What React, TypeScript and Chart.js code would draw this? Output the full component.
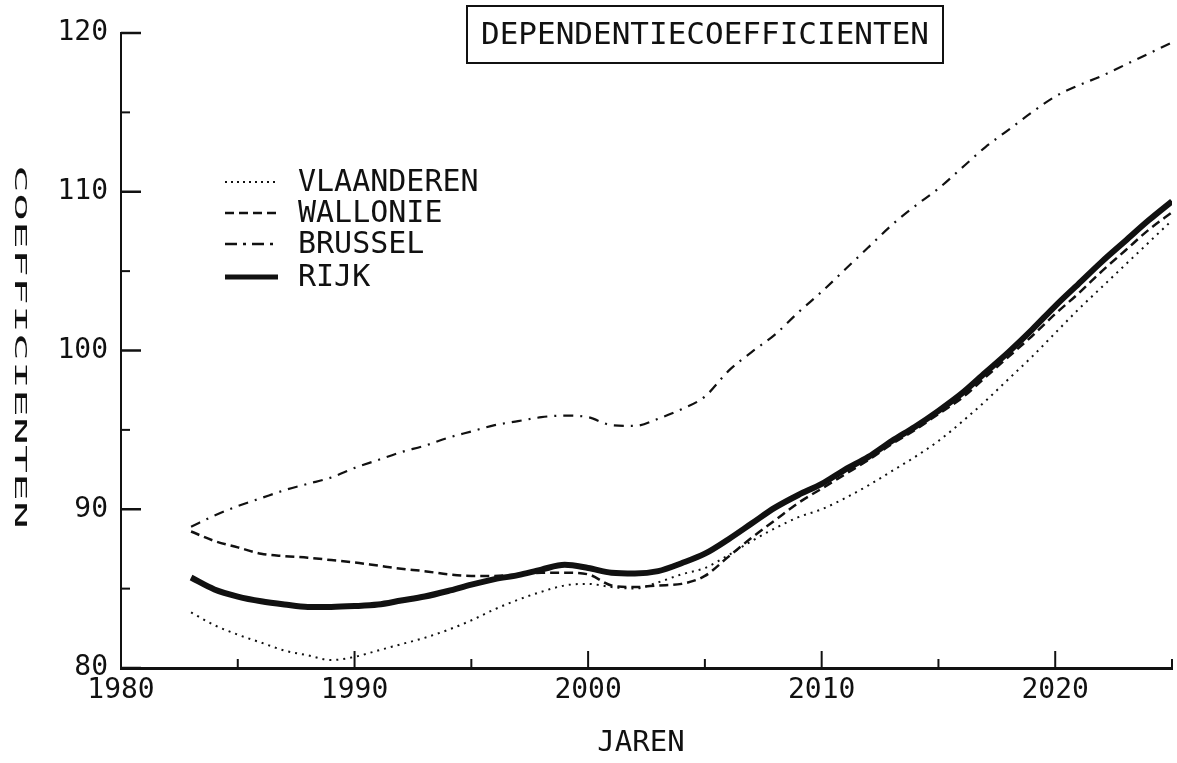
import React, { useEffect, useRef } from "react";
import { Chart, registerables } from "chart.js";

Chart.register(...registerables);

// ---------- data ----------
const years = [
  1983, 1984, 1985, 1986, 1987, 1988, 1989, 1990, 1991, 1992,
  1993, 1994, 1995, 1996, 1997, 1998, 1999, 2000, 2001, 2002,
  2003, 2004, 2005, 2006, 2007, 2008, 2009, 2010, 2011, 2012,
  2013, 2014, 2015, 2016, 2017, 2018, 2019, 2020, 2021, 2022,
  2023, 2024, 2025,
];

const vlaanderen = [
  83.5, 82.7, 82.1, 81.6, 81.1, 80.8, 80.5, 80.7, 81.1, 81.5,
  81.9, 82.4, 83.0, 83.7, 84.3, 84.8, 85.2, 85.3, 85.1, 85.0,
  85.4, 85.9, 86.3, 87.1, 88.0, 88.8, 89.5, 90.0, 90.7, 91.5,
  92.4, 93.3, 94.3, 95.5, 96.8, 98.2, 99.6, 101.1, 102.6, 104.0,
  105.4, 106.8, 108.2,
];

const wallonie = [
  88.6, 88.0, 87.6, 87.2, 87.05, 86.95, 86.8, 86.65, 86.45, 86.25,
  86.1, 85.9, 85.8, 85.8, 85.9, 86.0, 86.0, 85.9, 85.2, 85.1,
  85.2, 85.3, 85.8, 87.0, 88.2, 89.3, 90.4, 91.3, 92.2, 93.1,
  94.1, 95.0, 96.0, 97.0, 98.3, 99.6, 100.9, 102.3, 103.6, 105.0,
  106.3, 107.6, 108.7,
];

const brussel = [
  88.9, 89.6, 90.2, 90.7, 91.2, 91.6, 92.0, 92.6, 93.1, 93.6,
  94.0, 94.5, 94.9, 95.3, 95.55, 95.8, 95.9, 95.8, 95.3, 95.25,
  95.7, 96.3, 97.1, 98.7, 99.9, 101.0, 102.4, 103.7, 105.1, 106.5,
  107.9, 109.1, 110.2, 111.5, 112.8, 113.9, 115.0, 116.0, 116.7, 117.3,
  118.0, 118.7, 119.4,
];

const rijk = [
  85.7, 84.95, 84.5, 84.2, 84.0, 83.85, 83.85, 83.9, 84.0, 84.25,
  84.5, 84.85, 85.25, 85.6, 85.85, 86.2, 86.5, 86.3, 86.0, 85.95,
  86.1, 86.6, 87.2, 88.1, 89.1, 90.1, 90.9, 91.6, 92.5, 93.3,
  94.3, 95.2, 96.2, 97.3, 98.6, 99.9, 101.3, 102.8, 104.2, 105.6,
  106.9, 108.2, 109.4,
];

const seriesLabels = ["VLAANDEREN", "WALLONIE", "BRUSSEL", "RIJK"];

const xMajorTicks = [1980, 1990, 2000, 2010, 2020];
const xMinorTicks = [1985, 1995, 2005, 2015, 2025];
const yMajorTicks = [80, 90, 100, 110, 120];
const yMinorTicks = [85, 95, 105, 115];

const titleText = "DEPENDENTIECOEFFICIENTEN";
const xTitleText = "JAREN";
const yTitleText = "COEFFICIENTEN";

// ---------- styling ----------
const INK = "#111111";
const MONO = '"DejaVu Sans Mono", "Liberation Mono", monospace';

const toPoints = (vals: number[]) => years.map((yr, i) => ({ x: yr, y: vals[i] }));

const decorPlugin = {
  id: "decor",
  afterDraw(chart: any) {
    const { ctx, chartArea } = chart;
    const xs = chart.scales.x;
    const ys = chart.scales.y;
    ctx.save();
    ctx.strokeStyle = INK;
    ctx.fillStyle = INK;
    ctx.setLineDash([]);
    ctx.lineCap = "butt";

    const seg = (x1: number, y1: number, x2: number, y2: number, w: number) => {
      ctx.lineWidth = w;
      ctx.beginPath();
      ctx.moveTo(x1, y1);
      ctx.lineTo(x2, y2);
      ctx.stroke();
    };

    // inward tick marks
    yMajorTicks.forEach((v) => {
      const py = ys.getPixelForValue(v);
      seg(chartArea.left, py, chartArea.left + 20, py, 2.5);
    });
    yMinorTicks.forEach((v) => {
      const py = ys.getPixelForValue(v);
      seg(chartArea.left, py, chartArea.left + 9, py, 2);
    });
    xMajorTicks.forEach((v) => {
      const px = xs.getPixelForValue(v);
      seg(px, chartArea.bottom, px, chartArea.bottom - 17, 2);
    });
    xMinorTicks.forEach((v) => {
      const px = xs.getPixelForValue(v);
      seg(px, chartArea.bottom, px, chartArea.bottom - 9, 2);
    });

    // title box
    ctx.lineWidth = 2;
    ctx.strokeRect(467, 6, 476, 57);
    ctx.font = `31px ${MONO}`;
    ctx.textAlign = "center";
    ctx.textBaseline = "middle";
    ctx.fillText(titleText, 705, 36);

    // x axis title
    ctx.font = `29px ${MONO}`;
    ctx.fillText(xTitleText, 641, 743);

    // y axis title (reads top to bottom)
    ctx.save();
    ctx.translate(19, 347);
    ctx.rotate(Math.PI / 2);
    ctx.scale(3.1, 1);
    ctx.font = `15px ${MONO}`;
    ctx.textAlign = "center";
    ctx.textBaseline = "middle";
    ctx.fillText(yTitleText, 0, 0);
    ctx.restore();

    // legend
    const rows = [182, 213, 244, 277];
    chart.data.datasets.forEach((ds: any, i: number) => {
      const ry = rows[i];
      ctx.save();
      ctx.strokeStyle = INK;
      ctx.lineWidth = ds.legendWidth;
      ctx.setLineDash(ds.legendDash);
      ctx.beginPath();
      ctx.moveTo(225, ry);
      ctx.lineTo(278, ry);
      ctx.stroke();
      ctx.restore();
      ctx.font = `30px ${MONO}`;
      ctx.textAlign = "left";
      ctx.textBaseline = "middle";
      ctx.fillText(ds.label, 298, ry + 1);
    });

    ctx.restore();
  },
};

export default function App() {
  const canvasRef = useRef<HTMLCanvasElement | null>(null);

  useEffect(() => {
    if (!canvasRef.current) return;
    const common = {
      showLine: true,
      pointRadius: 0,
      pointHoverRadius: 0,
      fill: false,
      borderColor: INK,
      backgroundColor: INK,
      cubicInterpolationMode: "monotone",
    };
    const chart = new Chart(canvasRef.current, {
      type: "line",
      data: {
        datasets: [
          {
            ...common,
            label: seriesLabels[0],
            data: toPoints(vlaanderen),
            borderWidth: 2,
            borderDash: [2, 5],
            legendDash: [2, 4],
            legendWidth: 2,
          },
          {
            ...common,
            label: seriesLabels[1],
            data: toPoints(wallonie),
            borderWidth: 2.5,
            borderDash: [9, 5],
            legendDash: [9, 5],
            legendWidth: 2.5,
          },
          {
            ...common,
            label: seriesLabels[2],
            data: toPoints(brussel),
            borderWidth: 2.2,
            borderDash: [10, 7, 2, 7],
            legendDash: [12, 6, 3, 6],
            legendWidth: 2.5,
          },
          {
            ...common,
            label: seriesLabels[3],
            data: toPoints(rijk),
            borderWidth: 6,
            legendDash: [],
            legendWidth: 5,
          },
        ] as any,
      },
      options: {
        responsive: false,
        animation: false,
        layout: { padding: { top: 33, right: 5, left: 0, bottom: 0 } },
        plugins: {
          legend: { display: false },
          title: { display: false },
          tooltip: { enabled: false },
        },
        scales: {
          x: {
            type: "linear",
            min: 1980,
            max: 2025,
            grid: { display: false, drawTicks: false },
            border: { display: true, color: INK, width: 3 },
            afterBuildTicks: (scale: any) => {
              scale.ticks = xMajorTicks.map((v) => ({ value: v }));
            },
            afterFit: (scale: any) => {
              scale.height = 95;
            },
            ticks: {
              color: INK,
              padding: 6,
              maxRotation: 0,
              autoSkip: false,
              font: { family: MONO, size: 28 },
              callback: (v: any) => String(v),
            },
          },
          y: {
            type: "linear",
            min: 80,
            max: 120,
            grid: { display: false, drawTicks: false },
            border: { display: true, color: INK, width: 2 },
            afterBuildTicks: (scale: any) => {
              scale.ticks = yMajorTicks.map((v) => ({ value: v }));
            },
            afterFit: (scale: any) => {
              scale.width = 121;
            },
            ticks: {
              color: INK,
              padding: 13,
              autoSkip: false,
              font: { family: MONO, size: 28 },
              callback: (v: any) => String(v),
            },
          },
        },
      } as any,
      plugins: [decorPlugin],
    });
    return () => chart.destroy();
  }, []);

  return (
    <canvas
      ref={canvasRef}
      width={1177}
      height={763}
      style={{ position: "fixed", left: 0, top: 0, display: "block", background: "#ffffff" }}
    />
  );
}
